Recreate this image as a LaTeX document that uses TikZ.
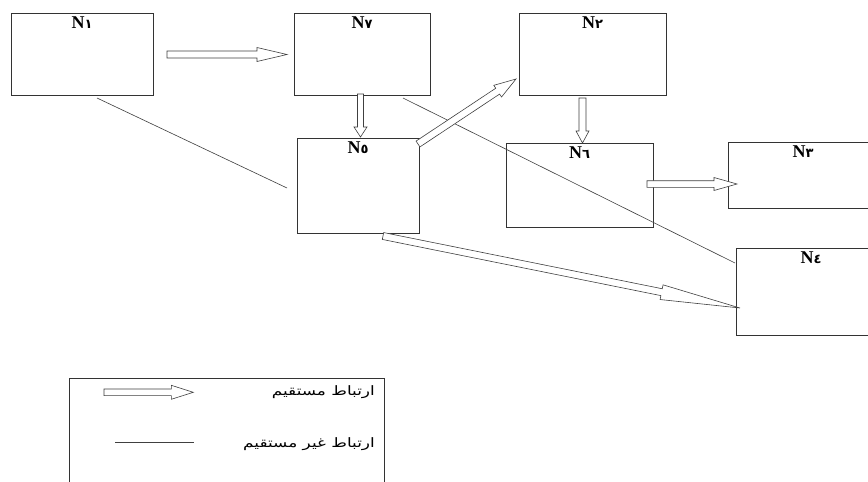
\documentclass[tikz,border=0pt]{standalone}
\usepackage{fontspec}
\usepackage{graphicx}
\setmainfont{Liberation Serif}
\newfontfamily\arabicfont[Script=Arabic]{DejaVu Sans}
\newfontfamily\digitfont{DejaVu Sans}
\TeXXeTstate=1
\usetikzlibrary{calc}
\tikzset{
  box/.style={draw=black!80, line width=0.8pt, rectangle, inner sep=0pt},
  nlabel/.style={anchor=north, inner sep=0pt, font=\bfseries\fontsize{18}{18}\selectfont},
  hollow/.style={draw=black!75, line width=0.6pt, fill=white, line join=miter},
  thinline/.style={draw=black!75, line width=0.6pt},
  legendtext/.style={anchor=east, inner sep=0pt, font=\arabicfont\fontsize{13}{15}\selectfont},
}
\newcommand\digitN[1]{N{\digitfont\fontsize{13}{13}\selectfont #1}}
% #1 tail, #2 tip, #3 head length, #4 shaft half width, #5 head half width
\newcommand\hollowarrow[5]{%
  \path ($(#2)!#3!(#1)$) coordinate (hb);
  \draw[hollow] ($(#1)!#4!90:(#2)$) -- ($(hb)!#4!90:(#2)$) -- ($(hb)!#5!90:(#2)$)
    -- (#2) -- ($(hb)!#5!-90:(#2)$) -- ($(hb)!#4!-90:(#2)$) -- ($(#1)!#4!-90:(#2)$) -- cycle;
}
\begin{document}
\begin{tikzpicture}[x=1pt, y=-1pt]
\useasboundingbox (0,0) rectangle (868,482);
\clip (0,0) rectangle (868,482);
\fill[white] (0,0) rectangle (868,482);

% boxes
\node[box, minimum width=142pt, minimum height=82pt] (n1) at (82,54) {};
\node[box, minimum width=136pt, minimum height=82pt] (n7) at (362,54) {};
\node[box, minimum width=147pt, minimum height=82pt] (n2) at (592.5,54) {};
\node[box, minimum width=122pt, minimum height=95pt] (n5) at (358,185.5) {};
\node[box, minimum width=147pt, minimum height=84pt] (n6) at (579.5,185) {};
\node[box, minimum width=150pt, minimum height=66pt] (n3) at (803,175) {};
\node[box, minimum width=150pt, minimum height=87pt] (n4) at (811,291.5) {};

% labels
\node[nlabel] (l1) at ([yshift=-4pt]n1.north) {\digitN{١}};
\node[nlabel] (l7) at ([yshift=-4pt]n7.north) {\digitN{٧}};
\node[nlabel] (l2) at ([yshift=-4pt]n2.north) {\digitN{٢}};
\node[nlabel] (l5) at ([yshift=-4pt]n5.north) {\digitN{٥}};
\node[nlabel] (l6) at ([yshift=-4pt]n6.north) {\digitN{٦}};
\node[nlabel] (l3) at ([yshift=-4pt]n3.north) {\digitN{٣}};
\node[nlabel] (l4) at ([yshift=-4pt]n4.north) {\digitN{٤}};

% connector end points
\coordinate (a1s) at (167,54.5);   \coordinate (a1e) at (287,54.5);
\coordinate (a2s) at (360.5,94);   \coordinate (a2e) at (360.5,137);
\coordinate (a3s) at (418,144);    \coordinate (a3e) at (516,79);
\coordinate (a4s) at (582.5,98);   \coordinate (a4e) at (582.5,143);
\coordinate (a5s) at (647,184);    \coordinate (a5e) at (737,184);
\coordinate (a6s) at (383,236);    \coordinate (a6e) at (740,308);
\coordinate (l1s) at (97,98);      \coordinate (l1e) at (287,188);
\coordinate (l2s) at (403,98);     \coordinate (l2e) at (735,263);

% indirect links
\draw[thinline] (l1s) -- (l1e);
\draw[thinline] (l2s) -- (l2e);

% direct links
\hollowarrow{a1s}{a1e}{30pt}{3.5pt}{7pt}
\hollowarrow{a2s}{a2e}{10pt}{3pt}{6.5pt}
\hollowarrow{a3s}{a3e}{22pt}{3.5pt}{7pt}
\hollowarrow{a4s}{a4e}{12pt}{3.5pt}{6.5pt}
\hollowarrow{a5s}{a5e}{23pt}{3.3pt}{6.5pt}
\hollowarrow{a6s}{a6e}{80pt}{3.5pt}{7.5pt}

% legend
\node[box, minimum width=315pt, minimum height=124pt] (leg) at (226.5,440) {};
\coordinate (g1s) at (104,392.3); \coordinate (g1e) at (193.3,392.3);
\coordinate (g2s) at (115,442);   \coordinate (g2e) at (194,442);
\hollowarrow{g1s}{g1e}{22pt}{3.3pt}{7pt}
\draw[thinline] (g2s) -- (g2e);
\node[legendtext] (t1) at (375,392) {\scalebox{1.3}[1]{\beginR ارتباط مستقيم\endR}};
\node[legendtext] (t2) at (375,444) {\scalebox{1.3}[1]{\beginR ارتباط غير مستقيم\endR}};
\end{tikzpicture}
\end{document}
